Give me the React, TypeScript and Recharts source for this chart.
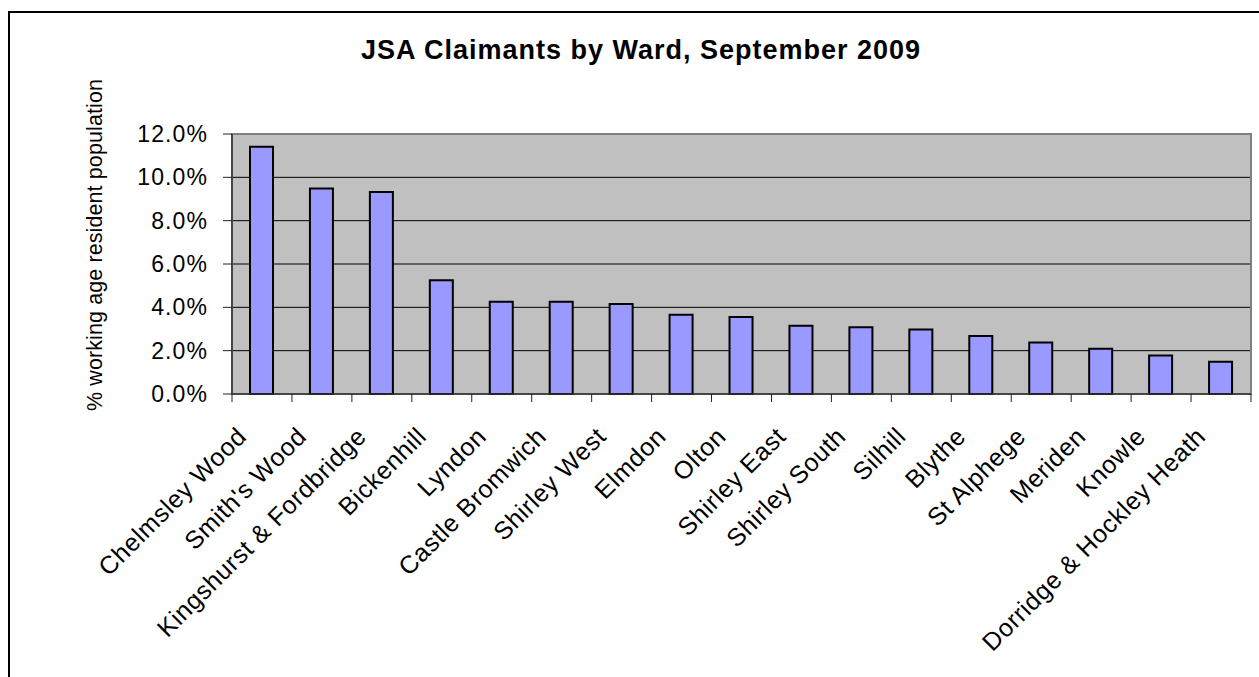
import React from 'react';
import { BarChart, Bar, XAxis, YAxis, CartesianGrid, ReferenceArea, Label } from 'recharts';

const wards = [
  'Chelmsley Wood', "Smith's Wood", 'Kingshurst & Fordbridge', 'Bickenhill', 'Lyndon',
  'Castle Bromwich', 'Shirley West', 'Elmdon', 'Olton', 'Shirley East', 'Shirley South',
  'Silhill', 'Blythe', 'St Alphege', 'Meriden', 'Knowle', 'Dorridge & Hockley Heath',
];
const claimantRates = [
  11.41, 9.49, 9.32, 5.25, 4.26, 4.26, 4.15, 3.66, 3.55, 3.15, 3.08, 2.98, 2.68, 2.38, 2.09, 1.78, 1.49,
];
const yTicks = [0, 2, 4, 6, 8, 10, 12];
const title = 'JSA Claimants by Ward, September 2009';
const yLabel = '% working age resident population';

const data = wards.map((w, i) => ({ ward: w, rate: claimantRates[i] }));

const FONT = '"Liberation Sans", Arial, Helvetica, sans-serif';
const W = 1259;
const H = 677;
const M = { top: 134, right: 8, bottom: 83, left: 0 };
const Y_AXIS_W = 232;
const X_AXIS_H = 200;
const BAND_HALF = (W - M.right - Y_AXIS_W) / wards.length / 2;

const XTick = (props: any) => {
  const { x, y, payload, index } = props;
  const half = payload && payload.offset ? payload.offset : BAND_HALF;
  return (
    <g>
      <line x1={x - half} x2={x - half} y1={y} y2={y + 8} stroke="#222" strokeWidth={1} />
      {index === wards.length - 1 && (
        <line x1={x + half} x2={x + half} y1={y} y2={y + 8} stroke="#222" strokeWidth={1} />
      )}
      <text
        transform={`translate(${x - 14},${y + 44}) rotate(-45)`}
        textAnchor="end"
        fontFamily={FONT}
        fontSize={25}
        letterSpacing={0.6}
        fill="#000"
      >
        {payload.value}
      </text>
    </g>
  );
};

const YTick = (props: any) => {
  const { x, y, payload } = props;
  return (
    <text
      x={x}
      y={y}
      dy={8}
      textAnchor="end"
      fontFamily={FONT}
      fontSize={23}
      letterSpacing={1.1}
      fill="#000"
    >
      {`${Number(payload.value).toFixed(1)}%`}
    </text>
  );
};

const YLabel = (props: any) => {
  const vb = props.viewBox || { x: 0, y: M.top, width: Y_AXIS_W, height: 260 };
  const cx = vb.x + 102;
  const cy = vb.y + vb.height / 2 - 19;
  return (
    <text
      transform={`translate(${cx},${cy}) rotate(-90)`}
      textAnchor="middle"
      fontFamily={FONT}
      fontSize={21.5}
      letterSpacing={0.1}
      fill="#000"
    >
      {yLabel}
    </text>
  );
};

export default function App() {
  return (
    <div
      style={{
        position: 'fixed',
        left: 0,
        top: 0,
        width: W,
        height: H,
        overflow: 'hidden',
        background: '#fff',
      }}
    >
      <div
        style={{
          position: 'absolute',
          left: 8,
          top: 11,
          width: 1300,
          height: 700,
          border: '2px solid #000',
          boxSizing: 'border-box',
        }}
      />
      <svg
        width={W}
        height={80}
        style={{ position: 'absolute', left: 0, top: 0 }}
      >
        <text
          x={641}
          y={59}
          textAnchor="middle"
          fontFamily={FONT}
          fontWeight="bold"
          fontSize={27}
          letterSpacing={1}
          fill="#000"
        >
          {title}
        </text>
      </svg>
      <div style={{ position: 'absolute', left: 0, top: 0 }}>
        <BarChart width={W} height={H} data={data} margin={M} barSize={23}>
          <CartesianGrid
            vertical={false}
            horizontal={true}
            stroke="#000"
            strokeWidth={1}
            fill="#C0C0C0"
            fillOpacity={1}
          />
          <ReferenceArea
            x1={wards[0]}
            x2={wards[wards.length - 1]}
            y1={0}
            y2={12}
            fill="none"
            stroke="#808080"
            strokeWidth={2}
            ifOverflow="visible"
          />
          <XAxis
            dataKey="ward"
            interval={0}
            height={X_AXIS_H}
            tickLine={false}
            tickSize={0}
            tickMargin={0}
            axisLine={{ stroke: '#333', strokeWidth: 1.5 }}
            tick={<XTick />}
          />
          <YAxis
            domain={[0, 12]}
            ticks={yTicks}
            width={Y_AXIS_W}
            interval={0}
            tickSize={9}
            tickMargin={15}
            tickLine={{ stroke: '#222' }}
            axisLine={{ stroke: '#333', strokeWidth: 1.5 }}
            tick={<YTick />}
          >
            <Label content={<YLabel />} />
          </YAxis>
          <Bar
            dataKey="rate"
            fill="#9999FF"
            stroke="#000"
            strokeWidth={2}
            isAnimationActive={false}
          />
        </BarChart>
      </div>
    </div>
  );
}
